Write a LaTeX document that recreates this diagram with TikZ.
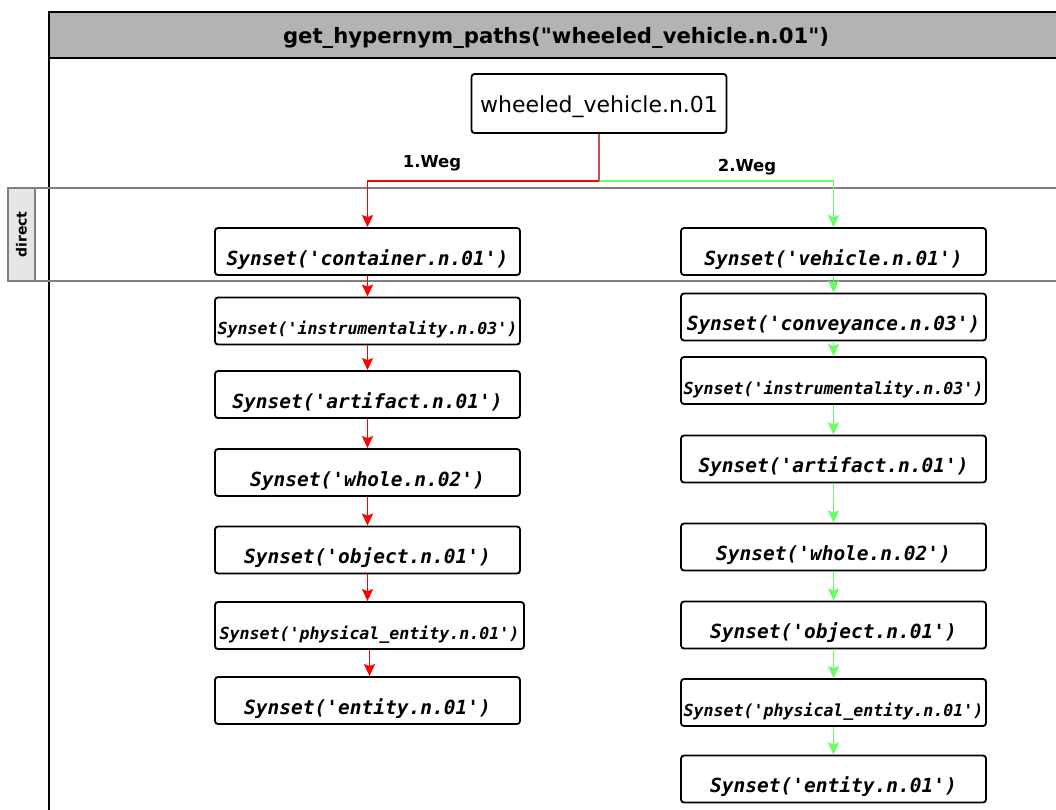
\documentclass[tikz,border=0pt]{standalone}
\usepackage{fontspec}
\setmainfont{DejaVu Sans}[Ligatures=TeXOff]
\setmonofont{DejaVu Sans Mono}
\usepackage{xcolor}
\usetikzlibrary{positioning, arrows.meta}

\definecolor{weggreen}{HTML}{66FF66}
\definecolor{stemred}{HTML}{C0504D}
\definecolor{titlegray}{HTML}{B3B3B3}
\definecolor{lanegray}{HTML}{E6E6E6}

\begin{document}
\begin{tikzpicture}[
			x=1pt, y=-1pt,
			synset/.style={draw, rectangle, rounded corners=3pt, line width=1.8pt, minimum width=305pt, minimum height=47pt, inner sep=0pt, align=center, text height=27pt, text depth=0pt, font=\ttfamily\bfseries\itshape\fontsize{19.5}{20}\selectfont},
			smallsyn/.style={font=\ttfamily\bfseries\itshape\fontsize{16.6}{17}\selectfont},
			laneline/.style={draw=gray, line width=1.5pt},
			weglabel/.style={font=\bfseries\fontsize{16.5}{18}\selectfont},
			redarrow/.style={-{Stealth[length=12pt, width=11pt, inset=2pt]}, line width=1.9pt, red},
			greenarrow/.style={-{Stealth[length=12pt, width=11pt, inset=2pt]}, line width=1.9pt, weggreen},
			stem/.style={line width=1.9pt, stemred}
		]

		\useasboundingbox (0,0) rectangle (1056,809);

		% Pool and title bar
		\draw[fill=titlegray, line width=1.2pt] (49,12) rectangle (1062,58);
		\node[font=\bfseries\fontsize{21.2}{22}\selectfont] (title) at (556,38) {get\_hypernym\_paths("wheeled\_vehicle.n.01")};
		\draw[line width=1.2pt] (49,12) -- (49,812);

		% Lane "direct"
		\draw[laneline] (8,188) -- (1062,188);
		\draw[laneline] (8,281) -- (1062,281);
		\node[draw=gray, fill=lanegray, line width=1.5pt, rotate=90, minimum width=93pt, minimum height=27pt, inner sep=0pt, font=\bfseries\fontsize{14}{16}\selectfont] (direct) at (21.5,234.5) {direct};

		% Start
		\node[draw, rounded corners=3pt, line width=1.8pt, minimum width=255pt, minimum height=59pt, text height=17pt, text depth=0pt, font=\fontsize{22}{24}\selectfont] (wheeled) at (599,103.5) {wheeled\_vehicle.n.01};
		\coordinate (split) at (599,181);
		\node[weglabel] (weg1) at (432,163) {1.Weg};
		\node[weglabel] (weg2) at (747,167) {2.Weg};

		% 1.Weg
		\node[synset] (lcontainer) at (367.5,251.5) {Synset('container.n.01')};
		\node[synset, smallsyn] (linstr) at (367.5,321) {Synset('instrumentality.n.03')};
		\node[synset] (lartifact) at (367.5,394.5) {Synset('artifact.n.01')};
		\node[synset] (lwhole) at (367.5,472.5) {Synset('whole.n.02')};
		\node[synset] (lobject) at (367.5,550) {Synset('object.n.01')};
		\node[synset, smallsyn, minimum width=309pt] (lphysical) at (369.5,625.5) {Synset('physical\_entity.n.01')};
		\node[synset] (lentity) at (367.5,700.5) {Synset('entity.n.01')};

		% 2.Weg
		\node[synset] (rvehicle) at (833.5,251.5) {Synset('vehicle.n.01')};
		\node[synset] (rconvey) at (833.5,317) {Synset('conveyance.n.03')};
		\node[synset, smallsyn] (rinstr) at (833.5,380.5) {Synset('instrumentality.n.03')};
		\node[synset] (rartifact) at (833.5,459) {Synset('artifact.n.01')};
		\node[synset] (rwhole) at (833.5,547) {Synset('whole.n.02')};
		\node[synset] (robject) at (833.5,625) {Synset('object.n.01')};
		\node[synset, smallsyn] (rphysical) at (833.5,702.5) {Synset('physical\_entity.n.01')};
		\node[synset] (rentity) at (833.5,779) {Synset('entity.n.01')};

		% Branch
		\draw[greenarrow] (split) -| (rvehicle.north);
		\draw[redarrow] (split) -| (lcontainer.north);
		\draw[stem] (wheeled.south) -- (split);

		% 1.Weg arrows
		\draw[redarrow] (lcontainer) -- (linstr);
		\draw[redarrow] (linstr) -- (lartifact);
		\draw[redarrow] (lartifact) -- (lwhole);
		\draw[redarrow] (lwhole) -- (lobject);
		\draw[redarrow] (lobject.south) -- (lphysical.north -| lobject.south);
		\draw[redarrow] (lphysical.south) -- (lentity.north -| lphysical.south);

		% 2.Weg arrows
		\draw[greenarrow] (rvehicle) -- (rconvey);
		\draw[greenarrow] (rconvey) -- (rinstr);
		\draw[greenarrow] (rinstr) -- (rartifact);
		\draw[greenarrow] (rartifact) -- (rwhole);
		\draw[greenarrow] (rwhole) -- (robject);
		\draw[greenarrow] (robject) -- (rphysical);
		\draw[greenarrow] (rphysical) -- (rentity);

		\end{tikzpicture}
\end{document}
